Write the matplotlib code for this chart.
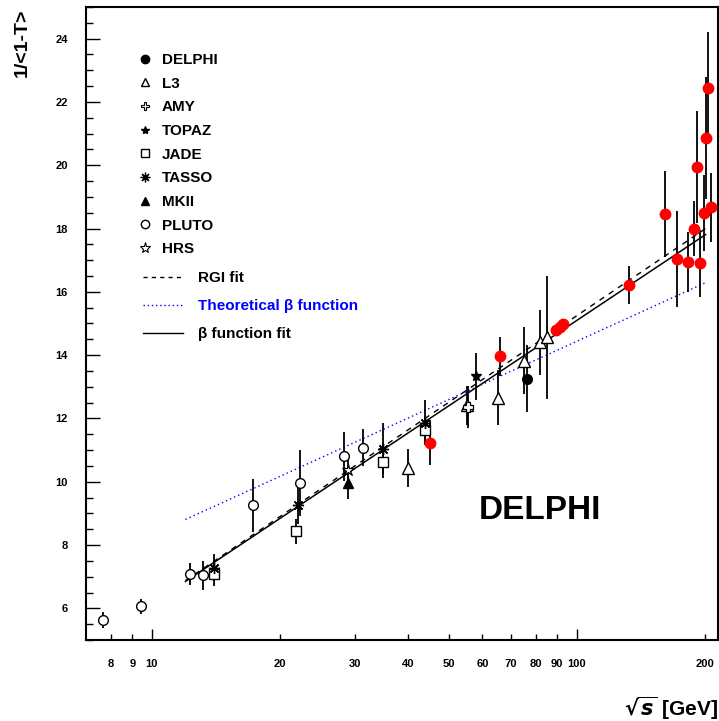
import matplotlib
matplotlib.use("Agg")
import matplotlib.pyplot as plt
from matplotlib.lines import Line2D
from matplotlib.ticker import FixedLocator, FixedFormatter, MultipleLocator

plt.rcParams["font.family"] = ["Liberation Sans", "DejaVu Sans"]
plt.rcParams["font.weight"] = "bold"

# ---- measurements: centre-of-mass energy [GeV], 1/<1-T>, error ----
delphi_x = [45.1, 65.9, 89.4, 91.2, 93.0, 132.8, 161.1, 171.9, 182.8, 188.8,
            191.6, 195.5, 199.4, 201.5, 204.1, 206.7]
delphi_y = [11.24, 13.96, 14.78, 14.88, 14.98, 16.23, 18.46, 17.04, 16.94, 18.00,
            19.95, 16.90, 18.50, 20.86, 22.44, 18.67]
delphi_e = [0.71, 0.62, 0.06, 0.06, 0.06, 0.60, 1.36, 1.53, 0.96, 0.88,
            1.77, 1.06, 1.20, 1.94, 1.77, 1.10]

delphi_rad_x = [76.3]
delphi_rad_y = [13.26]
delphi_rad_e = [1.07]

l3_x = [40.0, 55.1, 65.2, 75.0, 81.8, 85.0]
l3_y = [10.42, 12.41, 12.66, 13.83, 14.40, 14.56]
l3_e = [0.60, 0.63, 0.87, 1.06, 1.03, 1.94]

amy_x = [55.5]
amy_y = [12.36]
amy_e = [0.65]

topaz_x = [57.9]
topaz_y = [13.33]
topaz_e = [0.74]

jade_x = [14.0, 21.9, 35.0, 43.9]
jade_y = [7.07, 8.43, 10.61, 11.62]
jade_e = [0.36, 0.40, 0.50, 0.43]

tasso_x = [14.0, 22.1, 35.0, 43.9]
tasso_y = [7.29, 9.25, 11.05, 11.87]
tasso_e = [0.44, 0.60, 0.80, 0.71]

mk2_x = [28.9]
mk2_y = [9.95]
mk2_e = [0.50]

pluto_x = [7.66, 9.42, 12.3, 13.2, 17.3, 22.3, 28.3, 31.4]
pluto_y = [5.62, 6.06, 7.08, 7.04, 9.25, 9.95, 10.80, 11.08]
pluto_e = [0.25, 0.24, 0.35, 0.47, 0.84, 1.04, 0.77, 0.58]

hrs_x = [28.9]
hrs_y = [10.36]
hrs_e = [0.50]

# ---- curves (endpoints in energy, value) ----
fit_range = [12.0, 201.0]
rgi_fit = [6.88, 18.00]
beta_theory = [8.81, 16.29]
beta_fit = [6.85, 17.81]

x_major = [10, 100]
x_minor = [8, 9, 20, 30, 40, 50, 60, 70, 80, 90, 200]

fig = plt.figure(figsize=(7.19, 7.21), dpi=100)
W, H = 719, 721
ax = fig.add_axes([86 / W, (H - 640) / H, (718 - 86) / W, (640 - 7) / H])

ax.set_xscale("log")
ax.set_xlim(7, 215)
ax.set_ylim(5, 25)

ebkw = dict(ls="none", ecolor="black", elinewidth=1.3, capsize=0, zorder=3)

ax.errorbar(pluto_x, pluto_y, yerr=pluto_e, marker="o", ms=7, mfc="white",
            mec="black", mew=1.0, **ebkw)
ax.errorbar(jade_x, jade_y, yerr=jade_e, marker="s", ms=6.5, mfc="white",
            mec="black", mew=1.0, **ebkw)
ax.errorbar(tasso_x, tasso_y, yerr=tasso_e, marker=(8, 2, 0), ms=8,
            mec="black", mew=1.0, **ebkw)
ax.errorbar(mk2_x, mk2_y, yerr=mk2_e, marker="^", ms=6.5, mfc="black",
            mec="black", **ebkw)
ax.errorbar(hrs_x, hrs_y, yerr=hrs_e, marker="*", ms=9, mfc="white",
            mec="black", mew=0.9, **ebkw)
ax.errorbar(l3_x, l3_y, yerr=l3_e, marker="^", ms=8, mfc="white",
            mec="black", mew=1.0, **ebkw)
ax.errorbar(amy_x, amy_y, yerr=amy_e, marker="P", ms=7.5, mfc="white",
            mec="black", mew=0.9, **ebkw)
ax.errorbar(topaz_x, topaz_y, yerr=topaz_e, marker="*", ms=7, mfc="black",
            mec="black", **ebkw)
ax.errorbar(delphi_rad_x, delphi_rad_y, yerr=delphi_rad_e, marker="o", ms=7,
            mfc="black", mec="black", **ebkw)
ax.errorbar(delphi_x, delphi_y, yerr=delphi_e, marker="o", ms=7.5, mfc="red",
            mec="red", **ebkw)

ax.plot(fit_range, rgi_fit, color="black", lw=1.0, ls=(0, (4, 4)), zorder=2)
ax.plot(fit_range, beta_theory, color="blue", lw=1.0, ls=(0, (1, 2.2)), zorder=2)
ax.plot(fit_range, beta_fit, color="black", lw=1.1, ls="-", zorder=2)

# axes styling
for s in ax.spines.values():
    s.set_linewidth(1.5)
ax.xaxis.set_major_locator(FixedLocator(x_major))
ax.xaxis.set_minor_locator(FixedLocator(x_minor))
ax.xaxis.set_major_formatter(FixedFormatter([str(v) for v in x_major]))
ax.xaxis.set_minor_formatter(FixedFormatter([str(v) for v in x_minor]))
ax.yaxis.set_major_locator(MultipleLocator(2))
ax.yaxis.set_minor_locator(MultipleLocator(0.5))
ax.tick_params(axis="both", which="both", direction="in", width=1.0,
               labelsize=8, top=False, right=False)
ax.tick_params(axis="x", which="major", length=8, pad=14)
ax.tick_params(axis="x", which="minor", length=4, pad=14, labelsize=8)
ax.tick_params(axis="y", which="major", length=10, pad=13)
ax.tick_params(axis="y", which="minor", length=5)
for lab in ax.get_xticklabels(which="both") + ax.get_yticklabels():
    lab.set_fontweight("bold")

# legend: experiments
exp_handles = [
    Line2D([], [], ls="none", marker="o", ms=6, mfc="black", mec="black"),
    Line2D([], [], ls="none", marker="^", ms=6, mfc="white", mec="black"),
    Line2D([], [], ls="none", marker="P", ms=6, mfc="white", mec="black", mew=0.8),
    Line2D([], [], ls="none", marker="*", ms=6, mfc="black", mec="black"),
    Line2D([], [], ls="none", marker="s", ms=5.5, mfc="white", mec="black"),
    Line2D([], [], ls="none", marker=(8, 2, 0), ms=7, mec="black", mew=0.9),
    Line2D([], [], ls="none", marker="^", ms=6, mfc="black", mec="black"),
    Line2D([], [], ls="none", marker="o", ms=6, mfc="white", mec="black"),
    Line2D([], [], ls="none", marker="*", ms=8, mfc="white", mec="black", mew=0.8),
]
exp_labels = ["DELPHI", "L3", "AMY", "TOPAZ", "JADE", "TASSO", "MKII", "PLUTO", "HRS"]
leg1 = ax.legend(exp_handles, exp_labels, loc="upper left",
                 bbox_to_anchor=(139 / W, (H - 53) / H), bbox_transform=fig.transFigure,
                 frameon=False, fontsize=11, handlelength=0.8, handletextpad=0.7,
                 labelspacing=0.634, borderpad=0, borderaxespad=0)
for t in leg1.get_texts():
    t.set_fontweight("bold")
ax.add_artist(leg1)

line_handles = [
    Line2D([], [], color="black", lw=1.0, ls=(0, (3, 3))),
    Line2D([], [], color="blue", lw=1.0, ls=(0, (1, 2))),
    Line2D([], [], color="black", lw=1.0, ls="-"),
]
line_labels = ["RGI fit", "Theoretical β function", "β function fit"]
leg2 = ax.legend(line_handles, line_labels, loc="upper left",
                 bbox_to_anchor=(143 / W, (H - 271) / H), bbox_transform=fig.transFigure,
                 frameon=False, fontsize=11, handlelength=2.6, handletextpad=1.0,
                 labelspacing=0.913, borderpad=0, borderaxespad=0)
for t, c in zip(leg2.get_texts(), ["black", "blue", "black"]):
    t.set_fontweight("bold")
    t.set_color(c)

ax.text(0.718, 0.204, "DELPHI", transform=ax.transAxes, ha="center", va="center",
        fontsize=24, fontweight="bold")

fig.text(718 / W, 1 - 708 / H, r"$\sqrt{s}$ [GeV]", ha="right", va="center",
         fontsize=15, fontweight="bold")
fig.text(22 / W, 1 - 9 / H, "1/<1-T>", rotation=90, ha="center", va="top",
         fontsize=14, fontweight="bold")

fig.savefig("out.png", dpi=100)
